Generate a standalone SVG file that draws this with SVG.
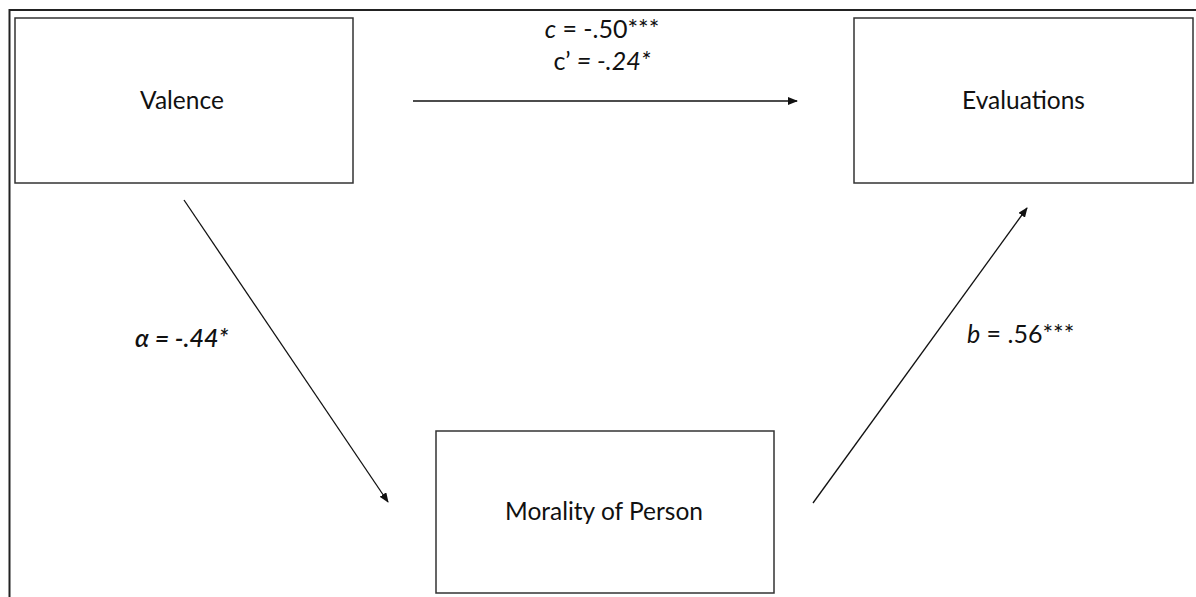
<svg xmlns="http://www.w3.org/2000/svg" width="1196" height="597" viewBox="0 0 1196 597">
  <style>
    .frame { fill: none; stroke: #222; stroke-width: 2; }
    .box { fill: #fff; stroke: #333; stroke-width: 1.5; }
    .label { font-family: Lato, "Liberation Sans", sans-serif; font-size: 24.5px; fill: #111; }
    .coef { font-family: Lato, "Liberation Sans", sans-serif; font-size: 25px; fill: #111; }
    .it { font-style: italic; }
    .heavy { font-weight: 600; }
    .edge { stroke: #111; stroke-width: 1.3; fill: none; marker-end: url(#arrow); }
  </style>
  <defs>
    <marker id="arrow" viewBox="0 0 10 8" refX="9" refY="4" markerWidth="10" markerHeight="8" markerUnits="userSpaceOnUse" orient="auto">
      <path d="M0,0 L10,4 L0,8 Z" fill="#111"/>
    </marker>
  </defs>
  <rect width="1196" height="597" fill="#fff"/>

  <!-- outer frame, open to the right and bottom -->
  <path class="frame" d="M9.5,597 V10 H1196"/>

  <g id="valence">
    <rect class="box" x="15" y="18" width="338" height="165"/>
    <text class="label" x="182" y="109" text-anchor="middle">Valence</text>
  </g>

  <g id="evaluations">
    <rect class="box" x="854" y="18" width="339" height="165"/>
    <text class="label" x="1023.5" y="109" text-anchor="middle">Evaluations</text>
  </g>

  <g id="morality">
    <rect class="box" x="436" y="431" width="338" height="162"/>
    <text class="label" x="604" y="520" text-anchor="middle">Morality of Person</text>
  </g>

  <g id="connectors">
    <line class="edge" x1="413" y1="101" x2="797" y2="101"/>
    <line class="edge" x1="184" y1="200" x2="388" y2="502"/>
    <line class="edge" x1="813" y1="503" x2="1027" y2="208"/>
  </g>

  <g id="edge-labels">
    <text class="coef" x="602" y="38" text-anchor="middle"><tspan class="it">c</tspan> = -.50***</text>
    <text class="coef" x="602" y="70" text-anchor="middle">c’ <tspan class="it">= -.24*</tspan></text>
    <text class="coef it heavy" x="135" y="347">α = -.44*</text>
    <text class="coef" x="967" y="343"><tspan class="it">b</tspan> = .56***</text>
  </g>
</svg>
